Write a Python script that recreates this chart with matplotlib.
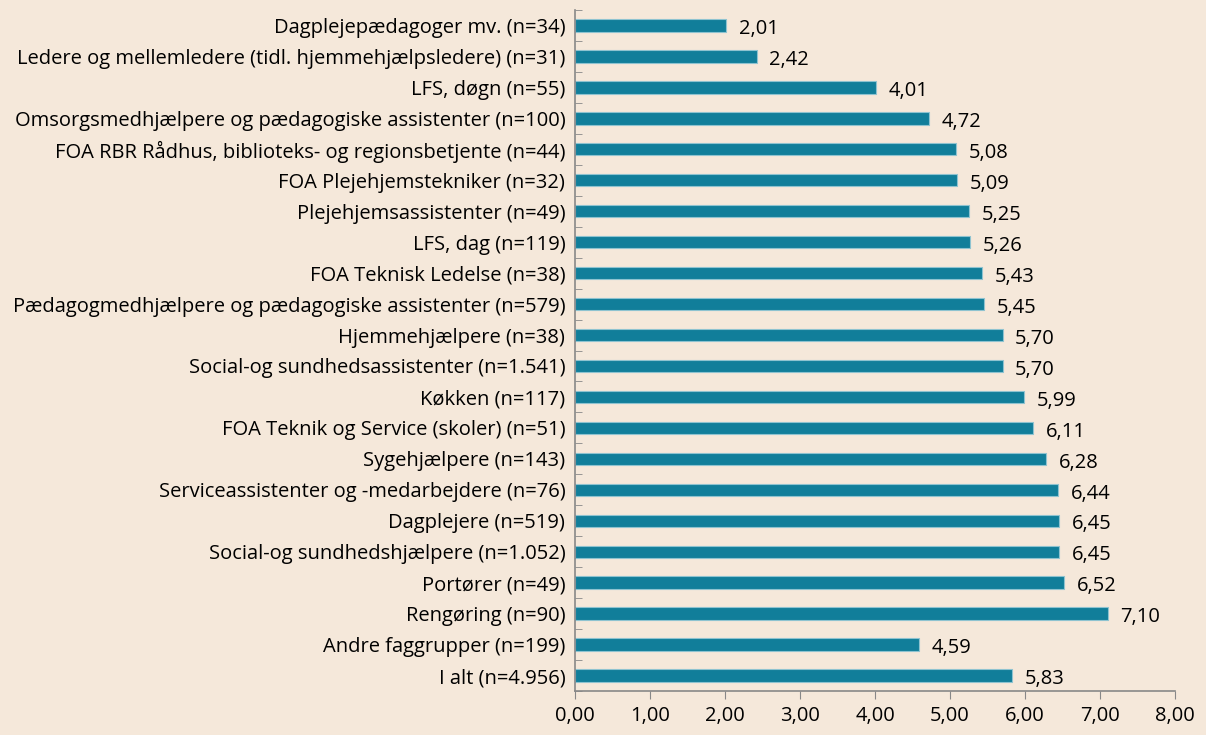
import matplotlib
matplotlib.use('Agg')
import matplotlib.pyplot as plt
import numpy as np

categories = [
    'Dagplejepædagoger mv. (n=34)',
    'Ledere og mellemledere (tidl. hjemmehjælpsledere) (n=31)',
    'LFS, døgn (n=55)',
    'Omsorgsmedhjælpere og pædagogiske assistenter (n=100)',
    'FOA RBR Rådhus, biblioteks- og regionsbetjente (n=44)',
    'FOA Plejehjemstekniker (n=32)',
    'Plejehjemsassistenter (n=49)',
    'LFS, dag (n=119)',
    'FOA Teknisk Ledelse (n=38)',
    'Pædagogmedhjælpere og pædagogiske assistenter (n=579)',
    'Hjemmehjælpere (n=38)',
    'Social-og sundhedsassistenter (n=1.541)',
    'Køkken (n=117)',
    'FOA Teknik og Service (skoler) (n=51)',
    'Sygehjælpere (n=143)',
    'Serviceassistenter og -medarbejdere (n=76)',
    'Dagplejere (n=519)',
    'Social-og sundhedshjælpere (n=1.052)',
    'Portører (n=49)',
    'Rengøring (n=90)',
    'Andre faggrupper (n=199)',
    'I alt (n=4.956)',
]
values = [2.01, 2.42, 4.01, 4.72, 5.08, 5.09, 5.25, 5.26, 5.43, 5.45, 5.70,
          5.70, 5.99, 6.11, 6.28, 6.44, 6.45, 6.45, 6.52, 7.10, 4.59, 5.83]
xticks = [0, 1, 2, 3, 4, 5, 6, 7, 8]


def comma(v):
    return ('%.2f' % v).replace('.', ',')


bg = '#F5E8DA'
bar_color = '#117E9A'
plt.rcParams['font.family'] = ['Open Sans', 'DejaVu Sans']
fs = 14.5

fig = plt.figure(figsize=(12.06, 7.35), dpi=100, facecolor=bg)
ax = fig.add_axes([575/1206, 1-691/735, 600/1206, 681/735])
ax.set_facecolor(bg)

y = np.arange(len(categories))
ax.barh(y, values, height=0.4, color=bar_color, edgecolor='#8EC3D0', linewidth=0.8)
for yi, v in zip(y, values):
    ax.text(v + 0.17, yi + 0.12, comma(v), fontsize=fs, va='center')

ax.set_ylim(len(categories) - 0.5, -0.5)
ax.set_xlim(0, 8)
ax.set_yticks(y)
ax.set_yticklabels(categories, fontsize=fs)
ax.tick_params(axis='y', length=0, pad=7)
ax.set_yticks(np.arange(-0.5, len(categories)), minor=True)
ax.tick_params(axis='y', which='minor', length=5, direction='in', color='#888888')
ax.set_xticks(xticks)
ax.set_xticklabels([comma(t) for t in xticks], fontsize=fs)
ax.tick_params(axis='x', length=6, direction='out', color='#888888', pad=5)
for s in ['top', 'right']:
    ax.spines[s].set_visible(False)
for s in ['left', 'bottom']:
    ax.spines[s].set_color('#888888')
    ax.spines[s].set_linewidth(1.2)

fig.savefig('out.png', dpi=100, facecolor=bg)
